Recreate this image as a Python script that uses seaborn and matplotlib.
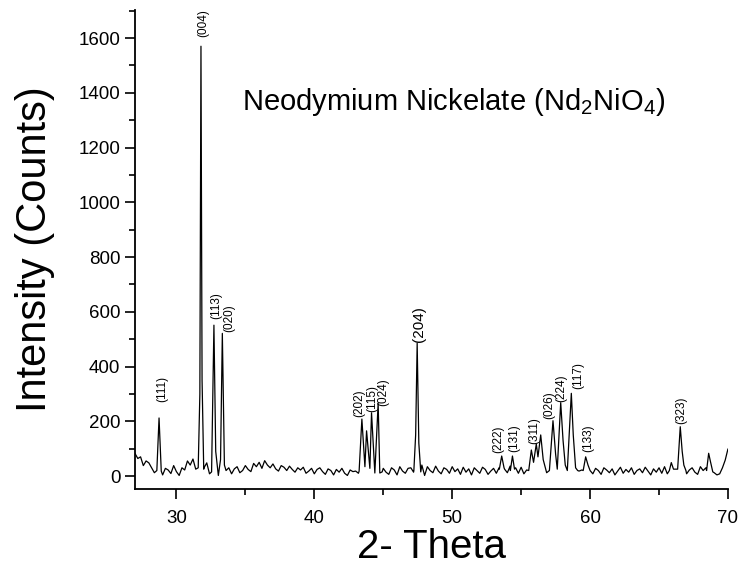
import numpy as np
import pandas as pd
import seaborn as sns
import matplotlib.pyplot as plt
from matplotlib.ticker import MultipleLocator

# background readings, one every 0.2 deg from 27.0 to 70.0
base_start, base_step = 27.0, 0.2
base_counts = [
    82, 64, 70, 38, 55, 48, 30, 12, 38, 15,   # 27.0 - 28.8
    4, 28, 22, 9, 38, 16, 2, 30, 22, 55,      # 29.0 - 30.8
    40, 62, 25, 35, 40, 30, 48, 8, 20, 25,    # 31.0 - 32.8
    5, 22, 14, 36, 30, 8, 26, 34, 12, 20,     # 33.0 - 34.8
    38, 24, 16, 46, 34, 50, 28, 56, 40, 30,   # 35.0 - 36.8
    44, 26, 18, 38, 32, 20, 36, 24, 14, 30,   # 37.0 - 38.8
    22, 32, 10, 18, 28, 8, 24, 30, 16, 6,     # 39.0 - 40.8
    26, 20, 4, 24, 14, 28, 10, 2, 22, 16,     # 41.0 - 42.8
    18, 10, 15, 20, 12, 15, 18, 20, 15, 12,   # 43.0 - 44.8
    28, 14, 6, 30, 22, 4, 34, 18, 10, 28,     # 45.0 - 46.8
    30, 14, 30, 25, 40, 2, 34, 20, 12, 36,    # 47.0 - 48.8
    18, 8, 30, 24, 10, 34, 16, 26, 6, 32,     # 49.0 - 50.8
    14, 26, 4, 30, 20, 10, 32, 24, 6, 18,     # 51.0 - 52.8
    28, 10, 30, 35, 25, 12, 36, 14, 30, 10,   # 53.0 - 54.8
    32, 8, 22, 28, 25, 30, 22, 25, 20, 15,    # 55.0 - 56.8
    20, 25, 22, 30, 25, 20, 28, 22, 25, 20,   # 57.0 - 58.8
    20, 18, 22, 25, 34, 16, 8, 28, 20, 6,     # 59.0 - 60.8
    30, 22, 12, 26, 4, 18, 32, 10, 24, 14,    # 61.0 - 62.8
    30, 6, 20, 26, 12, 32, 18, 4, 26, 14,     # 63.0 - 64.8
    30, 10, 34, 8, 30, 35, 20, 25, 18, 26,    # 65.0 - 66.8
    8, 22, 30, 14, 6, 34, 20, 30, 20, 18,     # 67.0 - 68.8
    12, 4, 8, 30, 58, 99,                     # 69.0 - 70.0
]

# reflections, read point by point across each peak
peak_theta = [
    28.58, 28.74, 28.90,
    31.58, 31.70, 31.78, 31.86, 31.98,
    32.55, 32.72, 32.85, 33.04, 33.20, 33.33, 33.48, 33.60,
    43.25, 43.45, 43.67, 43.79, 44.03, 44.15, 44.39, 44.63, 44.75, 44.92,
    47.22, 47.35, 47.46, 47.58, 47.72,
    53.42, 53.59, 53.76,
    54.22, 54.37, 54.52,
    55.55, 55.74, 55.90, 56.10, 56.22, 56.42, 56.60, 56.85,
    57.05, 57.31, 57.50, 57.62, 57.87, 58.04, 58.20, 58.35, 58.64, 58.78,
    58.95, 59.10,
    59.50, 59.68, 59.85, 60.00,
    65.75, 65.89, 66.05,
    66.35, 66.54, 66.68, 66.80, 66.95,
    68.45, 68.60, 68.72, 68.90,
]
peak_counts = [
    20, 212, 18,
    30, 300, 1570, 350, 25,
    15, 551, 90, 2, 60, 521, 40, 20,
    18, 208, 34, 165, 28, 231, 11, 266, 11, 15,
    20, 150, 485, 120, 15,
    25, 73, 30,
    20, 73, 25,
    20, 95, 50, 117, 70, 150, 60, 12,
    20, 202, 80, 25, 268, 130, 40, 20, 302, 150,
    30, 20,
    20, 70, 40, 20,
    20, 49, 25,
    25, 180, 90, 40, 20,
    20, 83, 55, 15,
]

hkl_labels = ['(111)', '(004)', '(113)', '(020)', '(202)', '(115)', '(024)',
              '(204)', '(222)', '(131)', '(311)', '(026)', '(224)', '(117)',
              '(133)', '(323)']
label_theta = [28.96, 31.93, 32.87, 33.81, 43.25, 44.20, 45.00, 47.60,
               53.33, 54.49, 55.93, 57.07, 57.92, 59.12, 59.85, 66.62]
label_counts = [270, 1604, 573, 526, 217, 235, 256, 491,
                85, 89, 117, 207, 271, 317, 89, 189]

# merge background with the peak segments
base_theta = np.round(base_start + base_step * np.arange(len(base_counts)), 2)
pt = np.array(peak_theta)
groups = np.split(pt, np.where(np.diff(pt) > 0.3)[0] + 1)
keep = np.ones(len(base_theta), dtype=bool)
for g in groups:
    keep &= ~((base_theta >= g[0] - 0.01) & (base_theta <= g[-1] + 0.01))
df = pd.DataFrame({
    'theta': np.concatenate([base_theta[keep], pt]),
    'counts': np.concatenate([np.array(base_counts)[keep], peak_counts]),
}).sort_values('theta')

sns.set_style("ticks")
plt.rcParams['font.family'] = ['Liberation Sans', 'DejaVu Sans']
plt.rcParams['mathtext.fontset'] = 'custom'
plt.rcParams['mathtext.rm'] = 'Liberation Sans'
for k in ['text.color', 'axes.labelcolor', 'xtick.color', 'ytick.color']:
    plt.rcParams[k] = 'black'

fig = plt.figure(figsize=(7.38, 5.77), dpi=100)
ax = fig.add_axes([0.183, 0.1525, 0.8034, 0.83])

sns.lineplot(data=df, x='theta', y='counts', estimator=None, sort=False,
             color='black', linewidth=0.9, ax=ax)

for lab, lx, ly in zip(hkl_labels, label_theta, label_counts):
    ax.text(lx, ly, lab, rotation=90, ha='center', va='bottom',
            fontsize=11 if lab == '(204)' else 8.5)

ax.text(34.73, 1337, 'Neodymium Nickelate (Nd$_2$NiO$_4$)', fontsize=21,
        ha='left', va='baseline')

ax.set_xlim(27, 70)
ax.set_ylim(-47.5, 1702)
ax.xaxis.set_major_locator(MultipleLocator(10))
ax.xaxis.set_minor_locator(MultipleLocator(5))
ax.yaxis.set_major_locator(MultipleLocator(200))
ax.yaxis.set_minor_locator(MultipleLocator(100))
ax.tick_params(which='major', length=7, width=1.2, labelsize=13.5)
ax.tick_params(which='minor', length=4, width=1.2)
ax.tick_params(axis='x', pad=8)
for s in ['left', 'bottom']:
    ax.spines[s].set_linewidth(1.3)
    ax.spines[s].set_color('black')
sns.despine(ax=ax)

ax.set_xlabel('2- Theta', fontsize=29, labelpad=1)
ax.set_ylabel('Intensity (Counts)', fontsize=30, labelpad=17)

fig.savefig('out.png', dpi=100)
